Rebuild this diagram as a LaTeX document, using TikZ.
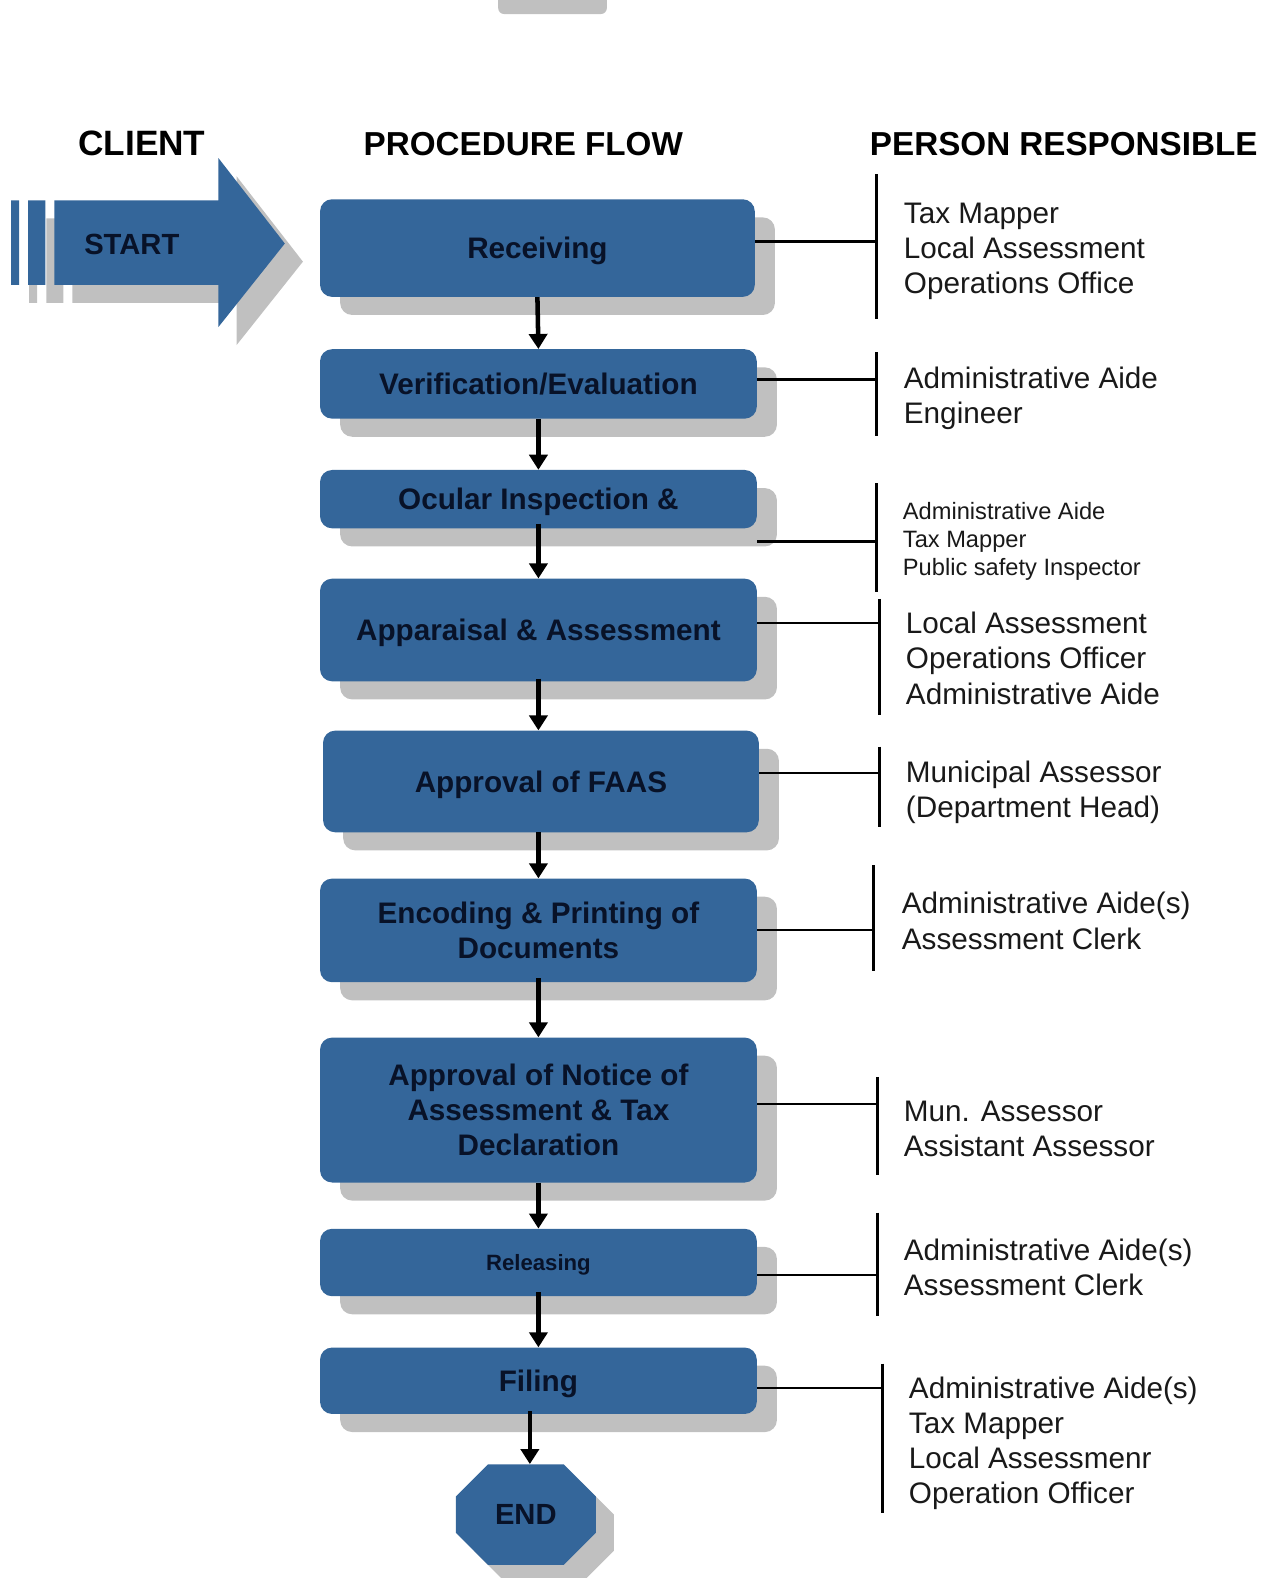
\documentclass[tikz,border=0pt]{standalone}
\usepackage{fontspec}
\setmainfont{Liberation Sans}
\usetikzlibrary{arrows.meta,shadows}
\definecolor{boxblue}{RGB}{52,102,154}
\definecolor{shadowgray}{RGB}{192,192,192}
\definecolor{boxtext}{RGB}{8,18,40}
\begin{document}
\begin{tikzpicture}[x=1pt,y=-1pt,
  stepbox/.style={fill=boxblue, rounded corners=12pt, text=boxtext, align=center, inner sep=0pt,
    font=\bfseries\fontsize{29.5}{35}\selectfont,
    drop shadow={shadow xshift=20pt, shadow yshift=-18pt, fill=shadowgray, opacity=1}},
  oneline/.style={text depth=0pt},
  hdr/.style={anchor=base, font=\bfseries\fontsize{33}{33}\selectfont, text=black, inner sep=0pt},
  who/.style={anchor=west, align=left, inner sep=0pt, font=\fontsize{29.5}{35}\selectfont, text=black!90},
  flow/.style={line width=4.5pt, -{Triangle[width=18pt,length=15pt]}},
  tie/.style={line width=2.5pt, black}
]
\useasboundingbox (0,0) rectangle (1260,1568);
% grey bar cut at top
\fill[shadowgray, rounded corners=6pt] (495,-20) rectangle (603,14);

% headers
\node[hdr, font=\bfseries\fontsize{35}{35}\selectfont] (hclient) at (141,155) {CLIENT};
\node[hdr] (hflow) at (520,155) {PROCEDURE FLOW};
\node[hdr] (hwho) at (1057,155) {PERSON RESPONSIBLE};

% start arrow
\fill[shadowgray, shift={(18,18)}] (11,199) rectangle (19,283) (28,199) rectangle (45,283)
  (54,199) -- (217,199) -- (217,157) -- (283,242) -- (217,325) -- (217,283) -- (54,283) -- cycle;
\fill[boxblue] (11,199) rectangle (19,283) (28,199) rectangle (45,283)
  (54,199) -- (217,199) -- (217,157) -- (283,242) -- (217,325) -- (217,283) -- (54,283) -- cycle;
\node[font=\bfseries\fontsize{29}{29}\selectfont, text=boxtext, inner sep=0pt] (start) at (131,243) {START};

% boxes
\node[stepbox, oneline, minimum width=432pt, minimum height=97pt] (s1) at (534,246.5) {Receiving};
\node[stepbox, minimum width=434pt, minimum height=69pt] (s2) at (535,381.5) {Verification/Evaluation};
\node[stepbox, oneline, minimum width=434pt, minimum height=58pt] (s3) at (535,496) {Ocular Inspection \&};
\node[stepbox, oneline, minimum width=434pt, minimum height=102pt] (s4) at (535,626) {Apparaisal \& Assessment};
\node[stepbox, oneline, minimum width=433pt, minimum height=101pt] (s5) at (537.5,776.5) {Approval of FAAS};
\node[stepbox, minimum width=434pt, minimum height=103pt] (s6) at (535,924.5) {Encoding \& Printing of\\Documents};
\node[stepbox, minimum width=434pt, minimum height=144pt] (s7) at (535,1103) {Approval of Notice of\\Assessment \& Tax\\Declaration};
\node[stepbox, oneline, minimum width=434pt, minimum height=67pt, font=\bfseries\fontsize{22}{26}\selectfont] (s8) at (535,1254.5) {Releasing};
\node[stepbox, oneline, minimum width=434pt, minimum height=66pt] (s9) at (535,1372) {Filing};

% END octagon
\fill[shadowgray, shift={(18,18)}] (485,1455) -- (560,1455) -- (592,1487) -- (592,1523) -- (560,1555) -- (485,1555) -- (453,1523) -- (453,1487) -- cycle;
\fill[boxblue] (485,1455) -- (560,1455) -- (592,1487) -- (592,1523) -- (560,1555) -- (485,1555) -- (453,1523) -- (453,1487) -- cycle;
\node[minimum width=139pt, minimum height=100pt, inner sep=0pt, text=boxtext, font=\bfseries\fontsize{29}{29}\selectfont] (end) at (522.5,1505) {END};

% flow arrows
\draw[flow] (s1.south) -- (s2.north);
\draw[flow] (s2.south) -- (s3.north);
\draw[flow] ([yshift=5pt]s3.south) -- (s4.north);
\draw[flow] ([yshift=3pt]s4.south) -- (s5.north -| s4.south);
\draw[flow] (s5.south -| s6.north) -- (s6.north);
\draw[flow] ([yshift=4pt]s6.south) -- (s7.north);
\draw[flow] (s7.south) -- (s8.north);
\draw[flow] ([yshift=4pt]s8.south) -- (s9.north);
\draw[flow] ([xshift=4pt,yshift=3pt]s9.south -| end.north) -- ([xshift=4pt]end.north);

% responsible
\coordinate (j1) at (871,240);  \coordinate (t1) at (871,173);  \coordinate (b1) at (871,317);
\coordinate (j2) at (871,377);  \coordinate (t2) at (871,350);  \coordinate (b2) at (871,433);
\coordinate (j3) at (871,538);  \coordinate (t3) at (871,480);  \coordinate (b3) at (871,588);
\coordinate (j4) at (874,619);  \coordinate (t4) at (874,595);  \coordinate (b4) at (874,710);
\coordinate (j5) at (874,768);  \coordinate (t5) at (874,742);  \coordinate (b5) at (874,822);
\coordinate (j6) at (868,924);  \coordinate (t6) at (868,860);  \coordinate (b6) at (868,965);
\coordinate (j7) at (872,1097); \coordinate (t7) at (872,1070); \coordinate (b7) at (872,1168);
\coordinate (j8) at (872,1267); \coordinate (t8) at (872,1205); \coordinate (b8) at (872,1308);
\coordinate (j9) at (877,1379); \coordinate (t9) at (877,1355); \coordinate (b9) at (877,1503);

\foreach \i in {1,...,9} {
  \draw[tie] (t\i) -- (b\i);
  \draw[tie] (j\i -| s\i.east) -- (j\i);
}

\node[who] (w1) at (898,250) {Tax Mapper\\Local Assessment\\Operations Office};
\node[who] (w2) at (898,396) {Administrative Aide\\Engineer};
\node[who, font=\fontsize{23.5}{28}\selectfont] (w3) at (897,538) {Administrative Aide\\Tax Mapper\\Public safety Inspector};
\node[who] (w4) at (900,654) {Local Assessment\\Operations Officer\\Administrative Aide};
\node[who] (w5) at (900,787) {Municipal Assessor\\(Department Head)};
\node[who] (w6) at (896,915) {Administrative Aide(s)\\Assessment Clerk};
\node[who] (w7) at (898,1122) {Mun. Assessor\\Assistant Assessor};
\node[who] (w8) at (898,1259) {Administrative Aide(s)\\Assessment Clerk};
\node[who] (w9) at (903,1434) {Administrative Aide(s)\\Tax Mapper\\Local Assessmenr\\Operation Officer};
\end{tikzpicture}
\end{document}
